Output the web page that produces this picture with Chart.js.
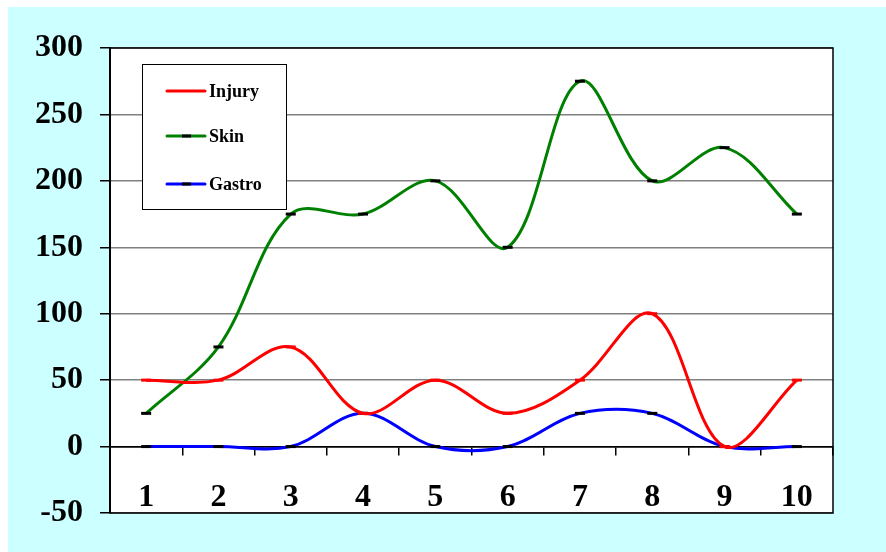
<!DOCTYPE html>
<html>
<head>
<meta charset="utf-8">
<script src="https://cdn.jsdelivr.net/npm/chart.js@4"></script>
<style>
html,body{margin:0;padding:0;background:#fff;}
#wrap{position:relative;width:886px;height:552px;}
</style>
</head>
<body>
<div id="wrap"><canvas id="c" width="886" height="552"></canvas></div>
<script>
const categories = ['1','2','3','4','5','6','7','8','9','10'];
const injury = [50, 50, 75, 25, 50, 25, 50, 100, 0, 50];
const skin   = [25, 75, 175, 175, 200, 150, 275, 200, 225, 175];
const gastro = [0, 0, 0, 25, 0, 0, 25, 25, 0, 0];
const seriesNames = ['Injury', 'Skin', 'Gastro'];
const seriesColors = ['#ff0000', '#008000', '#0000ff'];
const markerColors = ['#ff0000', '#000000', '#000000'];
const yMin = -50, yMax = 300, yStep = 50;

const FONT = "'Liberation Serif', 'Times New Roman', serif";

const bgPlugin = {
  id: 'bg',
  beforeDraw(chart) {
    const ctx = chart.ctx, a = chart.chartArea;
    ctx.save();
    ctx.fillStyle = '#ffffff';
    ctx.fillRect(0, 0, chart.width, chart.height);
    ctx.fillStyle = '#ccffff';
    ctx.fillRect(8, 7, chart.width - 8, chart.height - 7);
    ctx.fillStyle = '#ffffff';
    ctx.fillRect(a.left, a.top, a.right - a.left, a.bottom - a.top);
    ctx.restore();
  },
  afterDraw(chart) {
    const ctx = chart.ctx, a = chart.chartArea;
    ctx.save();
    ctx.strokeStyle = '#000';
    ctx.lineWidth = 1.5;
    ctx.strokeRect(a.left, a.top, a.right - a.left, a.bottom - a.top);
    // legend box
    const lx = a.left + 32, ly = a.top + 16, lw = 144, lh = 145;
    ctx.fillStyle = '#fff';
    ctx.fillRect(lx, ly, lw, lh);
    ctx.lineWidth = 1;
    ctx.strokeRect(lx + 0.5, ly + 0.5, lw, lh);
    const rows = [27, 72, 120];
    ctx.font = 'bold 18px ' + FONT;
    ctx.textBaseline = 'middle';
    ctx.textAlign = 'left';
    seriesNames.forEach((n, i) => {
      const y = ly + rows[i];
      ctx.strokeStyle = seriesColors[i];
      ctx.lineWidth = 3;
      ctx.lineCap = 'round';
      ctx.beginPath();
      ctx.moveTo(lx + 25, y);
      ctx.lineTo(lx + 63, y);
      ctx.stroke();
      if (i > 0) {
        ctx.strokeStyle = '#000';
        ctx.lineCap = 'butt';
        ctx.beginPath();
        ctx.moveTo(lx + 40, y);
        ctx.lineTo(lx + 49, y);
        ctx.stroke();
      }
      ctx.fillStyle = '#000';
      ctx.fillText(n, lx + 67, y + 1);
    });
    ctx.restore();
  }
};

const mk = (label, data, i) => ({
  label, data,
  borderColor: seriesColors[i],
  borderWidth: 3,
  tension: 0.35,
  pointStyle: 'line',
  pointRadius: 5,
  pointBorderWidth: 3,
  pointBorderColor: markerColors[i],
  pointBackgroundColor: markerColors[i],
  fill: false,
  clip: false
});

new Chart(document.getElementById('c'), {
  type: 'line',
  data: {
    labels: categories,
    datasets: [mk(seriesNames[0], injury, 0), mk(seriesNames[1], skin, 1), mk(seriesNames[2], gastro, 2)]
  },
  plugins: [bgPlugin],
  options: {
    responsive: false,
    animation: false,
    layout: { padding: { top: 48, right: 53, bottom: 39, left: 0 } },
    plugins: { legend: { display: false }, tooltip: { enabled: false } },
    scales: {
      y: {
        min: yMin, max: yMax,
        ticks: { stepSize: yStep, color: '#000', padding: 17, font: { family: FONT, size: 32, weight: 'bold' } },
        grid: {
          color: (c) => c.tick && c.tick.value === 0 ? '#000' : '#808080',
          lineWidth: 1.5,
          tickColor: '#000',
          tickLength: 10
        },
        border: { display: true, color: '#000', width: 2 },
        afterFit(s) { s.width = 110; }
      },
      x: {
        type: 'category',
        offset: true,
        position: { y: 0 },
        ticks: { color: '#000', padding: 24, autoSkip: false, maxRotation: 0, font: { family: FONT, size: 32, weight: 'bold' } },
        grid: { drawOnChartArea: false, drawTicks: true, tickLength: 8, tickColor: '#000', offset: true, lineWidth: 1.5 },
        border: { display: true, color: '#000', width: 1.5 }
      }
    }
  }
});
</script>
</body>
</html>
